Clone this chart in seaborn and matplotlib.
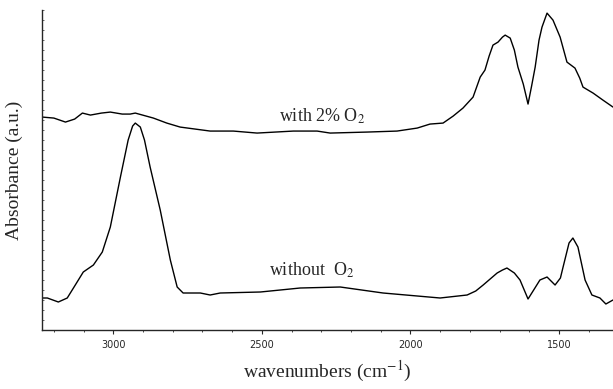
import numpy as np
import pandas as pd
import matplotlib.pyplot as plt
import seaborn as sns
from matplotlib.ticker import MultipleLocator

# spectrum with 2% O2 (wavenumber, absorbance a.u.)
wn_o2 = [3239, 3200, 3161, 3130, 3104, 3077, 3040, 3010, 2970, 2943, 2926, 2865,
         2820, 2775, 2674, 2596, 2516, 2394, 2314, 2270, 2146, 2045, 1977, 1934,
         1890, 1856, 1823, 1789, 1765, 1749, 1735, 1722, 1705, 1690, 1681, 1664,
         1650, 1638, 1620, 1604, 1592, 1580, 1567, 1557, 1540, 1520, 1496, 1473,
         1446, 1430, 1419, 1385, 1352, 1318]
abs_o2 = [213, 212, 208, 211, 217, 215, 217, 218, 216, 216, 217, 212,
          207, 203, 199, 199, 197, 199, 199, 197, 198, 199, 202, 206,
          207, 214, 222, 233, 253, 260, 274, 285, 288, 293, 295, 292,
          280, 263, 246, 226, 244, 263, 290, 303, 317, 310, 293, 268,
          262, 252, 243, 237, 230, 223]

# spectrum without O2
wn_no = [3239, 3222, 3185, 3155, 3130, 3101, 3067, 3037, 3010, 2976, 2950, 2935,
         2926, 2909, 2895, 2876, 2842, 2808, 2785, 2765, 2707, 2674, 2640, 2505,
         2371, 2236, 2092, 1900, 1809, 1780, 1755, 1708, 1690, 1675, 1650, 1631,
         1604, 1585, 1564, 1540, 1513, 1495, 1486, 1466, 1453, 1436, 1412, 1389,
         1362, 1342, 1318]
abs_no = [32, 32, 28, 32, 44, 58, 65, 78, 103, 153, 190, 204,
          207, 203, 190, 163, 120, 70, 43, 37, 37, 35, 37, 38,
          42, 43, 37, 32, 35, 39, 45, 57, 60, 62, 57, 50,
          31, 40, 50, 53, 45, 52, 63, 87, 92, 83, 50, 35,
          32, 26, 30]

df = pd.concat([
    pd.DataFrame({"wn": wn_o2, "a": abs_o2, "s": "with 2% O2"}),
    pd.DataFrame({"wn": wn_no, "a": abs_no, "s": "without O2"}),
])

sns.set_style("ticks")
plt.rcParams['font.family'] = ['Liberation Serif', 'DejaVu Serif']
plt.rcParams['mathtext.fontset'] = 'stix'

fig = plt.figure(figsize=(6.13, 3.89), dpi=100)
ax = fig.add_axes([0.0685, 0.1517, 0.9315, 0.8223])
sns.lineplot(data=df, x="wn", y="a", units="s", estimator=None,
             color="black", lw=1.0, ax=ax)

ax.set_xlim(3240, 1318)
ax.set_ylim(0, 320)
ax.xaxis.set_major_locator(MultipleLocator(500))
ax.xaxis.set_minor_locator(MultipleLocator(100))
ax.yaxis.set_major_locator(MultipleLocator(20))
ax.yaxis.set_minor_locator(MultipleLocator(10))
ax.set_yticklabels([])
ax.tick_params(axis='x', which='major', direction='out', length=3, width=0.8,
               labelsize=7, pad=4)
ax.tick_params(axis='x', which='minor', direction='out', length=1.5, width=0.6)
ax.tick_params(axis='y', which='both', direction='in', length=1.5, width=0.5)
for lab in ax.get_xticklabels():
    lab.set_family(['Liberation Sans Narrow', 'DejaVu Sans'])
sns.despine(ax=ax)
for sp in ax.spines.values():
    sp.set_linewidth(1.0)

ax.set_xlabel("wavenumbers (cm$^{\\mathrm{-1}}$)", fontsize=14, labelpad=7)
ax.set_ylabel("Absorbance (a.u.)", fontsize=14, labelpad=10)
ax.text(2297, 214, "with 2% O$_\\mathrm{2}$", fontsize=13, ha='center', va='center')
ax.text(2331, 60, "without  O$_\\mathrm{2}$", fontsize=13, ha='center', va='center')

fig.savefig("out.png", dpi=100)
